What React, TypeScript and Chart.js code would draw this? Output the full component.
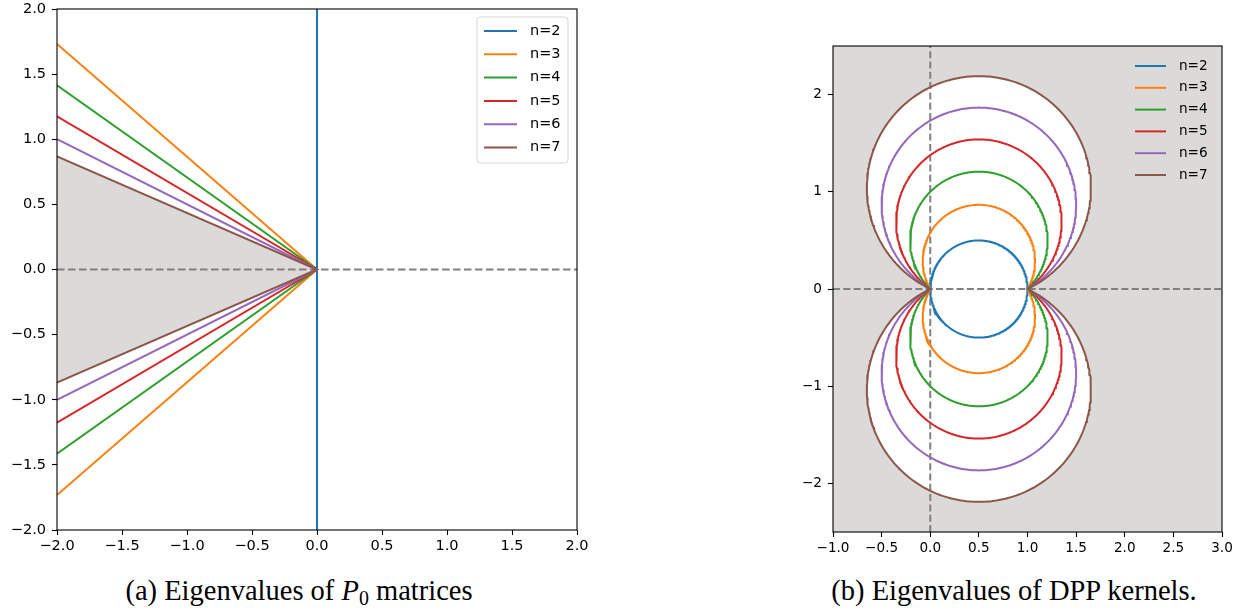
import React, { useEffect, useRef } from 'react';
import { Chart, registerables } from 'chart.js';

Chart.register(...registerables);

// ---------- data ----------
const seriesLabels = ['n=2', 'n=3', 'n=4', 'n=5', 'n=6', 'n=7'];
const seriesColors = ['#1f77b4', '#ff7f0e', '#2ca02c', '#d62728', '#9467bd', '#8c564b'];

// (a) rays of P0 eigenvalue sectors: end point (x, ±y) joined through the origin
const p0RayEndX = [0, -2, -2, -2, -2, -2];
const p0RayEndY = [2, 1.732, 1.414, 1.176, 1.0, 0.868];
const p0XRange = [-2, 2];
const p0YRange = [-2, 2];
const p0XTicks = [-2, -1.5, -1, -0.5, 0, 0.5, 1, 1.5, 2];
const p0YTicks = [-2, -1.5, -1, -0.5, 0, 0.5, 1, 1.5, 2];

// (b) DPP kernel regions: circle arcs through the chord [0, 1], peak height per n
const dppArcTop = [0.5, 0.866, 1.207, 1.539, 1.866, 2.19];
const dppChord = [0, 1];
const dppXRange = [-1, 3];
const dppYRange = [-2.5, 2.5];
const dppXTicks = [-1, -0.5, 0, 0.5, 1, 1.5, 2, 2.5, 3];
const dppYTicks = [-2, -1, 0, 1, 2];

// ---------- styles ----------
const SHADE = '#dcdad9';
const DASH = '#808080';
const FONT = 'DejaVu Sans';

type Pt = { x: number; y: number };

function arcLoop(top: number, a: number, b: number, steps: number): Pt[] {
  const cx = (a + b) / 2;
  const h = (b - a) / 2;
  const k = (top * top - h * h) / (2 * top);
  const r = top - k;
  const t0 = Math.atan2(-k, h);
  const t1 = Math.PI - t0;
  const upper: Pt[] = [];
  for (let i = 0; i <= steps; i++) {
    const t = t0 + ((t1 - t0) * i) / steps;
    upper.push({ x: cx + r * Math.cos(t), y: k + r * Math.sin(t) });
  }
  const lower = upper.slice().reverse().map((p) => ({ x: p.x, y: -p.y }));
  return upper.concat(lower.slice(1));
}

function fmt1(v: number) {
  return (v < 0 ? '\u2212' : '') + Math.abs(v).toFixed(1);
}
function fmt0(v: number) {
  return (v < 0 ? '\u2212' : '') + Math.abs(v).toFixed(0);
}

const mplPlugin = {
  id: 'mpl',
  beforeDatasetsDraw(chart: any, _args: any, opts: any) {
    if (!opts || !opts.background) return;
    const { left, top, width, height } = chart.chartArea;
    const ctx = chart.ctx;
    ctx.save();
    ctx.fillStyle = opts.background;
    ctx.fillRect(left, top, width, height);
    ctx.restore();
  },
  afterDatasetsDraw(chart: any, _args: any, opts: any) {
    const ctx = chart.ctx;
    const ca = chart.chartArea;
    ctx.save();
    ctx.strokeStyle = '#000';
    ctx.lineWidth = 1.1;
    ctx.strokeRect(ca.left, ca.top, ca.right - ca.left, ca.bottom - ca.top);
    const L = opts && opts.legend;
    if (L) {
      const x0 = ca.right - L.right - L.width;
      const y0 = ca.top + L.top;
      if (L.frame) {
        const r = 3;
        const w = L.width;
        const hh = L.height;
        ctx.beginPath();
        ctx.moveTo(x0 + r, y0);
        ctx.lineTo(x0 + w - r, y0);
        ctx.arcTo(x0 + w, y0, x0 + w, y0 + r, r);
        ctx.lineTo(x0 + w, y0 + hh - r);
        ctx.arcTo(x0 + w, y0 + hh, x0 + w - r, y0 + hh, r);
        ctx.lineTo(x0 + r, y0 + hh);
        ctx.arcTo(x0, y0 + hh, x0, y0 + hh - r, r);
        ctx.lineTo(x0, y0 + r);
        ctx.arcTo(x0, y0, x0 + r, y0, r);
        ctx.closePath();
        ctx.fillStyle = 'rgba(255,255,255,0.8)';
        ctx.fill();
        ctx.strokeStyle = 'rgba(204,204,204,0.8)';
        ctx.lineWidth = 1;
        ctx.stroke();
      }
      const items = chart.data.datasets.filter((d: any) => d.label);
      items.forEach((d: any, i: number) => {
        const y = y0 + L.firstRow + i * L.rowGap;
        ctx.strokeStyle = d.borderColor;
        ctx.lineWidth = 2;
        ctx.setLineDash([]);
        ctx.beginPath();
        ctx.moveTo(x0 + L.handleLeft, y);
        ctx.lineTo(x0 + L.handleLeft + L.handleLen, y);
        ctx.stroke();
        ctx.fillStyle = '#000';
        ctx.font = `${L.fontSize}px "${FONT}"`;
        ctx.textBaseline = 'middle';
        ctx.textAlign = 'left';
        ctx.fillText(d.label, x0 + L.textLeft, y);
      });
    }
    ctx.restore();
  },
};

function axis(range: number[], ticks: number[], fmt: (v: number) => string, size: number, fontSize: number, horizontal: boolean, pad: number) {
  return {
    type: 'linear',
    min: range[0],
    max: range[1],
    afterBuildTicks: (s: any) => {
      s.ticks = ticks.map((v) => ({ value: v }));
    },
    afterFit: (s: any) => {
      if (horizontal) s.height = size;
      else s.width = size;
      s.paddingLeft = 0;
      s.paddingRight = 0;
      s.paddingTop = 0;
      s.paddingBottom = 0;
    },
    ticks: {
      callback: (v: number) => fmt(v),
      font: { family: FONT, size: fontSize },
      color: '#000',
      padding: pad,
      autoSkip: false,
      maxRotation: 0,
      minRotation: 0,
    },
    grid: {
      drawOnChartArea: false,
      drawTicks: true,
      tickLength: 5,
      tickColor: '#000',
      tickWidth: 1.1,
      color: '#000',
    },
    border: { display: false },
  };
}

function lineDs(label: string, data: Pt[], color: string, order: number, extra: any = {}) {
  return {
    label,
    data,
    borderColor: color,
    backgroundColor: color,
    borderWidth: 2,
    pointRadius: 0,
    pointHoverRadius: 0,
    tension: 0,
    fill: false,
    order,
    ...extra,
  };
}

function leftConfig(): any {
  const series = seriesLabels.map((lab, i) =>
    lineDs(
      lab,
      [
        { x: p0RayEndX[i], y: p0RayEndY[i] },
        { x: 0, y: 0 },
        { x: p0RayEndX[i], y: -p0RayEndY[i] },
      ],
      seriesColors[i],
      10 - i
    )
  );
  const last = seriesLabels.length - 1;
  const shade = lineDs(
    '',
    [
      { x: p0RayEndX[last], y: p0RayEndY[last] },
      { x: 0, y: 0 },
      { x: p0RayEndX[last], y: -p0RayEndY[last] },
    ],
    'rgba(0,0,0,0)',
    30,
    { fill: 'shape', backgroundColor: SHADE, borderWidth: 0 }
  );
  const dash = lineDs('', [{ x: p0XRange[0], y: 0 }, { x: p0XRange[1], y: 0 }], DASH, 20, { borderDash: [7.5, 3.5] });
  return {
    type: 'line',
    data: { datasets: [shade, dash, ...series] },
    options: {
      animation: false,
      responsive: false,
      maintainAspectRatio: false,
      events: [],
      layout: { padding: { left: 0, right: 23, top: 9, bottom: 0 } },
      plugins: {
        legend: { display: false },
        tooltip: { enabled: false },
        mpl: {
          legend: {
            frame: true,
            right: 9,
            width: 91,
            top: 8,
            height: 146,
            handleLeft: 7,
            handleLen: 33,
            textLeft: 53,
            firstRow: 14,
            rowGap: 23.3,
            fontSize: 14.5,
          },
        },
      },
      scales: {
        x: axis(p0XRange, p0XTicks, fmt1, 40, 14.5, true, 3),
        y: axis(p0YRange, p0YTicks, fmt1, 57, 14.5, false, 6),
      },
    },
    plugins: [mplPlugin],
  };
}

function rightConfig(): any {
  const loops = dppArcTop.map((t) => arcLoop(t, dppChord[0], dppChord[1], 240));
  const series = seriesLabels.map((lab, i) => lineDs(lab, loops[i], seriesColors[i], 10 - i));
  const last = seriesLabels.length - 1;
  const white = lineDs('', loops[last], 'rgba(0,0,0,0)', 30, { fill: 'shape', backgroundColor: '#ffffff', borderWidth: 0 });
  const hdash = lineDs('', [{ x: dppXRange[0], y: 0 }, { x: dppXRange[1], y: 0 }], DASH, 20, { borderDash: [7, 3.3] });
  const vdash = lineDs('', [{ x: 0, y: dppYRange[0] }, { x: 0, y: dppYRange[1] }], DASH, 19, { borderDash: [7, 3.3] });
  return {
    type: 'line',
    data: { datasets: [white, hdash, vdash, ...series] },
    options: {
      animation: false,
      responsive: false,
      maintainAspectRatio: false,
      events: [],
      layout: { padding: { left: 0, right: 27, top: 46, bottom: 0 } },
      plugins: {
        legend: { display: false },
        tooltip: { enabled: false },
        mpl: {
          background: SHADE,
          legend: {
            frame: false,
            right: 0,
            width: 87,
            top: 0,
            height: 140,
            handleLeft: 0,
            handleLen: 31,
            textLeft: 44,
            firstRow: 20,
            rowGap: 21.8,
            fontSize: 13.6,
          },
        },
      },
      scales: {
        x: axis(dppXRange, dppXTicks, fmt1, 38, 13.6, true, 3),
        y: axis(dppYRange, dppYTicks, fmt0, 73, 13.6, false, 6),
      },
    },
    plugins: [mplPlugin],
  };
}

function ChartCanvas({ make, width, height, left }: { make: () => any; width: number; height: number; left: number }) {
  const ref = useRef<HTMLCanvasElement | null>(null);
  useEffect(() => {
    if (!ref.current) return;
    const chart = new Chart(ref.current, make());
    return () => chart.destroy();
  }, [make]);
  return (
    <canvas
      ref={ref}
      width={width}
      height={height}
      style={{ position: 'absolute', left, top: 0, width, height }}
    />
  );
}

const captionStyle: React.CSSProperties = {
  position: 'absolute',
  top: 577,
  fontFamily: '"Liberation Serif", serif',
  fontSize: 28.5,
  lineHeight: '28.5px',
  textAlign: 'center',
  color: '#000',
  whiteSpace: 'nowrap',
};

export default function App() {
  return (
    <div
      style={{
        position: 'absolute',
        left: 0,
        top: 0,
        width: 1249,
        height: 612,
        overflow: 'hidden',
        background: '#fff',
      }}
    >
      <ChartCanvas make={leftConfig} width={600} height={570} left={0} />
      <ChartCanvas make={rightConfig} width={489} height={570} left={760} />
      <div style={{ ...captionStyle, left: 0, width: 598 }}>
        (a) Eigenvalues of <i>P</i>
        <sub style={{ fontSize: '0.7em', verticalAlign: '-0.25em', lineHeight: 0 }}>0</sub> matrices
      </div>
      <div style={{ ...captionStyle, left: 780, width: 468 }}>(b) Eigenvalues of DPP kernels.</div>
    </div>
  );
}
